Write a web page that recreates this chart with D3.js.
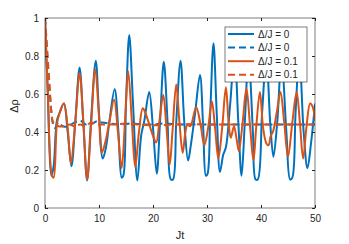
<!DOCTYPE html>
<html>
<head>
<meta charset="utf-8">
<script src="https://cdn.jsdelivr.net/npm/d3@7"></script>
<style>
  body { margin: 0; background: #fff; }
  text { font-family: "Liberation Sans", Arial, sans-serif; fill: #262626; }
</style>
</head>
<body>
<div id="chart"></div>
<script>
// series: time points and values
var tBlue = [0, 0.5, 1.2, 1.6, 2.2, 2.7, 3.5, 4.2, 4.9, 5.6, 6.4, 7.1, 7.8, 8.5, 9.4, 10.0, 10.7, 11.3, 11.9, 12.9, 13.6, 14.2, 14.5, 15.0, 15.6, 16.3, 17.1, 17.8, 18.4, 19.3, 20.0, 20.7, 21.3, 22.0, 22.7, 23.3, 23.7, 24.3, 25.1, 25.8, 26.5, 27.0, 27.8, 28.7, 29.3, 29.8, 30.1, 30.6, 31.2, 31.8, 32.4, 33.0, 33.5, 34.3, 35.1, 35.8, 36.4, 37.0, 37.7, 38.5, 39.0, 39.4, 40.2, 41.0, 41.7, 42.3, 43.0, 43.8, 44.7, 45.4, 45.8, 46.4, 47.1, 47.9, 48.6, 49.3, 50];
var vBlue = [1.0, 0.62, 0.17, 0.22, 0.46, 0.50, 0.55, 0.40, 0.22, 0.45, 0.74, 0.45, 0.145, 0.45, 0.775, 0.50, 0.26, 0.32, 0.45, 0.625, 0.40, 0.16, 0.17, 0.55, 0.91, 0.55, 0.145, 0.38, 0.46, 0.61, 0.42, 0.18, 0.45, 0.77, 0.45, 0.15, 0.15, 0.45, 0.775, 0.45, 0.25, 0.33, 0.50, 0.70, 0.42, 0.17, 0.18, 0.50, 0.867, 0.50, 0.19, 0.28, 0.32, 0.55, 0.82, 0.45, 0.17, 0.45, 0.80, 0.40, 0.15, 0.15, 0.50, 0.80, 0.45, 0.27, 0.45, 0.78, 0.40, 0.15, 0.16, 0.50, 0.80, 0.40, 0.21, 0.35, 0.55];

var tBlueDash = [0, 0.3, 0.6, 0.9, 1.2, 1.5, 1.9, 2.5, 3.3, 4.2, 5.2, 6.5, 7.5, 8.5, 9.5, 10.5, 12, 14, 16, 18, 20, 22, 25, 30, 35, 40, 45, 50];
var vBlueDash = [1, 0.86, 0.72, 0.6, 0.5, 0.44, 0.42, 0.45, 0.43, 0.43, 0.445, 0.46, 0.44, 0.44, 0.455, 0.45, 0.445, 0.44, 0.445, 0.44, 0.44, 0.445, 0.44, 0.44, 0.44, 0.44, 0.44, 0.44];

var tOrange = [0, 0.5, 1.3, 1.6, 2.2, 2.7, 3.5, 4.2, 4.8, 5.6, 6.4, 7.1, 7.8, 8.5, 9.3, 10.0, 10.5, 11.2, 11.9, 12.8, 13.5, 14.2, 14.8, 15.4, 16.1, 16.7, 17.4, 18.1, 18.6, 19.3, 20.0, 20.6, 21.2, 21.9, 22.5, 23.1, 23.6, 24.3, 24.9, 25.5, 26.0, 26.4, 26.9, 28.0, 28.8, 29.5, 30.2, 30.9, 31.5, 32.1, 32.8, 33.5, 34.0, 34.4, 35.0, 35.5, 35.9, 36.6, 37.3, 38.0, 38.6, 39.1, 39.8, 40.4, 41.0, 41.4, 41.8, 42.2, 42.9, 43.6, 44.3, 45.0, 45.8, 46.6, 47.2, 47.8, 48.4, 49.1, 49.6, 50];
var vOrange = [1.0, 0.62, 0.17, 0.16, 0.44, 0.50, 0.55, 0.42, 0.235, 0.45, 0.71, 0.45, 0.15, 0.42, 0.73, 0.48, 0.29, 0.35, 0.45, 0.57, 0.40, 0.21, 0.45, 0.72, 0.45, 0.215, 0.40, 0.525, 0.50, 0.44, 0.38, 0.345, 0.46, 0.595, 0.42, 0.23, 0.40, 0.65, 0.45, 0.29, 0.40, 0.44, 0.43, 0.53, 0.44, 0.33, 0.42, 0.56, 0.42, 0.26, 0.42, 0.635, 0.45, 0.37, 0.43, 0.36, 0.30, 0.45, 0.63, 0.42, 0.25, 0.42, 0.61, 0.42, 0.34, 0.33, 0.38, 0.40, 0.50, 0.61, 0.45, 0.27, 0.45, 0.61, 0.45, 0.26, 0.42, 0.55, 0.53, 0.46];

var tOrangeDash = [0, 0.3, 0.6, 0.9, 1.2, 1.5, 1.9, 2.5, 3.5, 4.5, 5.5, 6.5, 7.5, 8.5, 9.5, 11, 13, 15, 17, 20, 25, 30, 40, 50];
var vOrangeDash = [1, 0.88, 0.75, 0.62, 0.5, 0.45, 0.44, 0.43, 0.43, 0.44, 0.43, 0.44, 0.43, 0.45, 0.44, 0.44, 0.44, 0.445, 0.44, 0.435, 0.44, 0.44, 0.44, 0.44];

var legendLabels = ["\u0394/J = 0", "\u0394/J = 0", "\u0394/J = 0.1", "\u0394/J = 0.1"];
var xTicks = [0, 10, 20, 30, 40, 50];
var yTicks = [0, 0.2, 0.4, 0.6, 0.8, 1];

var blue = "#0072BD", orange = "#D95319";

var full_width = 349, full_height = 244;
var margin = {top: 18, right: 34, bottom: 36, left: 45};
var width = full_width - margin.left - margin.right;
var height = full_height - margin.top - margin.bottom;

var svg = d3.select("#chart")
  .append("svg")
    .attr("width", full_width)
    .attr("height", full_height)
  .append("g")
    .attr("transform", "translate(" + margin.left + "," + margin.top + ")");

var x = d3.scaleLinear().domain([0, 50]).range([0, width]);
var y = d3.scaleLinear().domain([0, 1]).range([height, 0]);

svg.append("defs").append("clipPath").attr("id", "clip")
  .append("rect").attr("width", width).attr("height", height);

function zip(ts, vs) { return ts.map(function(t, i) { return [t, vs[i]]; }); }

var line = d3.line()
  .x(function(d) { return x(d[0]); })
  .y(function(d) { return y(d[1]); })
  .curve(d3.curveCatmullRom.alpha(0.5));

var series = [
  {data: zip(tBlue, vBlue), color: blue, dash: null},
  {data: zip(tBlueDash, vBlueDash), color: blue, dash: "7,4"},
  {data: zip(tOrange, vOrange), color: orange, dash: null},
  {data: zip(tOrangeDash, vOrangeDash), color: orange, dash: "7,4"}
];

var plot = svg.append("g").attr("clip-path", "url(#clip)");
series.forEach(function(s) {
  plot.append("path")
    .attr("d", line(s.data))
    .style("fill", "none")
    .style("stroke", s.color)
    .style("stroke-width", 2)
    .style("stroke-dasharray", s.dash);
});

// axes, MATLAB style box with inward ticks
var axisColor = "#262626";
function styleAxis(g, hideText) {
  g.select(".domain").remove();
  g.selectAll(".tick line").attr("stroke", axisColor);
  g.selectAll(".tick text").style("font-size", "10px").attr("fill", axisColor)
    .style("font-family", "Liberation Sans, Arial, sans-serif");
  if (hideText) g.selectAll(".tick text").remove();
}

svg.append("g")
  .attr("transform", "translate(0," + height + ")")
  .call(d3.axisBottom(x).tickValues(xTicks).tickSize(-3).tickPadding(7).tickFormat(d3.format("d")))
  .call(function(g) { styleAxis(g, false); });
svg.append("g")
  .call(d3.axisTop(x).tickValues(xTicks).tickSize(-3))
  .call(function(g) { styleAxis(g, true); });
svg.append("g")
  .call(d3.axisLeft(y).tickValues(yTicks).tickSize(-3).tickPadding(6).tickFormat(function(d) { return d === 0 || d === 1 ? d : d.toFixed(1); }))
  .call(function(g) { styleAxis(g, false); });
svg.append("g")
  .attr("transform", "translate(" + width + ",0)")
  .call(d3.axisRight(y).tickValues(yTicks).tickSize(-3))
  .call(function(g) { styleAxis(g, true); });

svg.append("rect")
  .attr("width", width).attr("height", height)
  .style("fill", "none").style("stroke", axisColor).style("stroke-width", 0.6);

// axis labels
svg.append("text")
  .attr("x", width / 2)
  .attr("y", height + 31)
  .style("text-anchor", "middle")
  .style("font-size", "11px")
  .text("Jt");

svg.append("text")
  .attr("transform", "rotate(-90)")
  .attr("x", -88)
  .attr("y", -27)
  .style("text-anchor", "middle")
  .style("font-size", "11px")
  .text("\u0394\u03C1");

// legend
var lg = svg.append("g").attr("transform", "translate(" + (225 - margin.left) + "," + (27 - margin.top) + ")");
lg.append("rect")
  .attr("width", 82).attr("height", 55)
  .style("fill", "#fff").style("stroke", axisColor).style("stroke-width", 0.6);
legendLabels.forEach(function(lbl, i) {
  var yy = 7 + i * 13.6;
  lg.append("line")
    .attr("x1", 3).attr("x2", 29).attr("y1", yy).attr("y2", yy)
    .style("stroke", series[i].color)
    .style("stroke-width", 2)
    .style("stroke-dasharray", series[i].dash);
  lg.append("text")
    .attr("x", 33).attr("y", yy + 3.5)
    .style("font-size", "10px")
    .text(lbl);
});
</script>
</body>
</html>
